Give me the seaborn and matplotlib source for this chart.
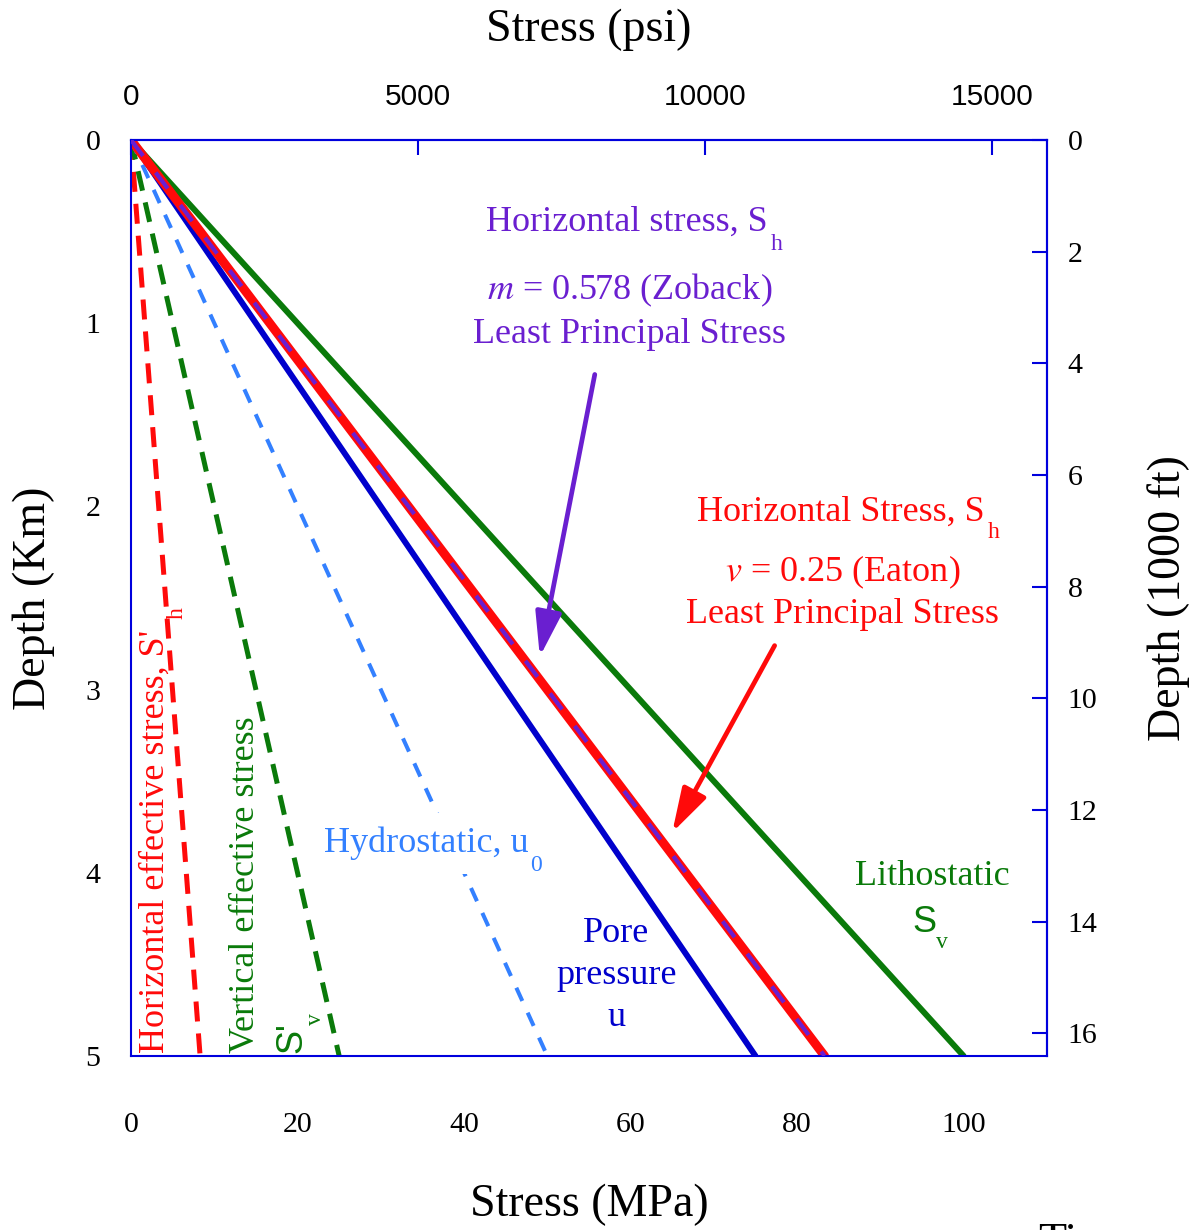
import numpy as np
import pandas as pd
import matplotlib
matplotlib.use("Agg")
import matplotlib.pyplot as plt
import seaborn as sns

# datos (esfuerzo en MPa, profundidad en km)
depth_km = [0.0, 5.0]
lithostatic_mpa = [0.0, 100.0]
pore_mpa = [0.0, 75.0]
sh_eaton_mpa = [0.0, 83.3]
sh_zoback_mpa = [0.0, 83.3]
hydro_mpa = [0.0, 50.0]
sv_eff_mpa = [0.0, 25.0]
sh_eff_mpa = [0.0, 8.3]

mpa_ticks = [0, 20, 40, 60, 80, 100]
psi_ticks = [0, 5000, 10000, 15000]
km_ticks = [0, 1, 2, 3, 4, 5]
kft_ticks = [0, 2, 4, 6, 8, 10, 12, 14, 16]

MPA_TO_PSI = 145.038
KM_TO_KFT = 3.28084

sns.set_style("white")
plt.rcParams['font.family'] = ['Liberation Serif', 'DejaVu Serif']
plt.rcParams['mathtext.fontset'] = 'stix'
plt.rcParams['text.color'] = 'black'
plt.rcParams['axes.labelcolor'] = 'black'
plt.rcParams['xtick.labelcolor'] = 'black'
plt.rcParams['ytick.labelcolor'] = 'black'

AXBLUE = '#0000dd'
GREEN = '#0a7a0a'
BLUE = '#0000cc'
RED = '#ff0a0a'
PURPLE = '#6a1fd0'
LBLUE = '#3380ff'

fig = plt.figure(figsize=(11.91, 12.30), dpi=100)
ax = fig.add_axes([0.110, 0.1415, 0.769, 0.7447])


def linea(x, color, lw, ls='-', z=2):
    df = pd.DataFrame({'x': x, 'y': depth_km})
    sns.lineplot(data=df, x='x', y='y', ax=ax, color=color, lw=lw,
                 linestyle=ls, sort=False, zorder=z)


linea(sh_eff_mpa, RED, 3.6, (0, (4, 2.4)))
linea(sv_eff_mpa, GREEN, 3.6, (0, (4, 2.4)))
linea(hydro_mpa, LBLUE, 2.9, (0, (3.6, 3.2)))
linea(pore_mpa, BLUE, 4.3)
linea(lithostatic_mpa, GREEN, 4.3)
linea(sh_eaton_mpa, RED, 6.5)
linea(sh_zoback_mpa, PURPLE, 3.0, (0, (4.8, 5)), z=3)

ax.set_xlim(0, 110)
ax.set_ylim(5, 0)
ax.set_xticks(mpa_ticks)
ax.set_yticks(km_ticks)
ax.set_xlabel("Stress (MPa)", fontsize=33, labelpad=33)
ax.set_ylabel("Depth (Km)", fontsize=33, labelpad=22)
ax.tick_params(axis='x', direction='in', length=11, width=1.5, color=AXBLUE,
               labelsize=21.5, pad=40)
ax.tick_params(axis='y', direction='in', length=11, width=1.5, color=AXBLUE,
               labelsize=21.5, pad=22)
for s in ax.spines.values():
    s.set_color(AXBLUE)
    s.set_linewidth(1.5)

top = ax.secondary_xaxis('top', functions=(lambda v: v * MPA_TO_PSI,
                                           lambda v: v / MPA_TO_PSI))
top.set_xticks(psi_ticks)
top.set_xlabel("Stress (psi)", fontsize=33, labelpad=30)
top.tick_params(direction='in', length=11, width=1.5, color=AXBLUE, pad=21)
for lab in top.get_xticklabels():
    lab.set_fontfamily('Liberation Sans')
    lab.set_fontsize(21.5)
for s in top.spines.values():
    s.set_color(AXBLUE)
    s.set_linewidth(1.5)

der = ax.secondary_yaxis('right', functions=(lambda v: v * KM_TO_KFT,
                                             lambda v: v / KM_TO_KFT))
der.set_yticks(kft_ticks)
der.set_ylabel("Depth (1000 ft)", fontsize=33, labelpad=36)
der.tick_params(direction='in', length=11, width=1.5, color=AXBLUE,
                labelsize=21.5, pad=15)
for s in der.spines.values():
    s.set_color(AXBLUE)
    s.set_linewidth(1.5)

# textos
fs = 26
sub = 17
flecha = '-|>,head_length=2.7,head_width=0.8'
ax.text(59.6, 0.45, "Horizontal stress, S", color=PURPLE, fontsize=fs,
        ha='center', va='center')
ax.text(77.6, 0.57, "h", color=PURPLE, fontsize=sub, ha='center', va='center')
ax.text(59.9, 0.82, "$m$ = 0.578 (Zoback)", color=PURPLE, fontsize=fs,
        ha='center', va='center')
ax.text(59.9, 1.06, "Least Principal Stress", color=PURPLE, fontsize=fs,
        ha='center', va='center')
ax.annotate("", xy=(49.1, 2.82), xytext=(55.7, 1.28),
            arrowprops=dict(arrowstyle=flecha, color=PURPLE, lw=3.4,
                            shrinkA=0, shrinkB=0))

ax.text(85.2, 2.03, "Horizontal Stress, S", color=RED, fontsize=fs,
        ha='center', va='center')
ax.text(103.6, 2.14, "h", color=RED, fontsize=sub, ha='center', va='center')
ax.text(85.5, 2.36, "$v$ = 0.25 (Eaton)", color=RED, fontsize=fs,
        ha='center', va='center')
ax.text(85.5, 2.59, "Least Principal Stress", color=RED, fontsize=fs,
        ha='center', va='center')
ax.annotate("", xy=(65.0, 3.78), xytext=(77.3, 2.76),
            arrowprops=dict(arrowstyle=flecha, color=RED, lw=3.4,
                            shrinkA=0, shrinkB=0))

ax.text(35.5, 3.84, "Hydrostatic, u", color=LBLUE, fontsize=fs,
        ha='center', va='center',
        bbox=dict(fc='white', ec='none', pad=10), zorder=4)
ax.text(48.7, 3.96, "0", color=LBLUE, fontsize=sub, ha='center', va='center',
        zorder=5)

ax.text(58.3, 4.33, "Pore", color=BLUE, fontsize=fs, ha='center', va='center')
ax.text(58.3, 4.56, "pressure", color=BLUE, fontsize=fs, ha='center', va='center')
ax.text(58.3, 4.79, "u", color=BLUE, fontsize=fs, ha='center', va='center')

ax.text(96.2, 4.02, "Lithostatic", color=GREEN, fontsize=fs,
        ha='center', va='center')
ax.text(95.3, 4.27, "S", color=GREEN, fontsize=fs, ha='center', va='center',
        family='Liberation Sans')
ax.text(97.4, 4.38, "v", color=GREEN, fontsize=sub, ha='center', va='center')

ax.text(2.9, 4.985, "Horizontal effective stress, S'", color=RED, fontsize=fs,
        rotation=90, ha='center', va='bottom')
ax.text(5.6, 2.58, "h", color=RED, fontsize=sub, rotation=90,
        ha='center', va='center')
ax.text(13.7, 4.985, "Vertical effective stress", color=GREEN, fontsize=fs,
        rotation=90, ha='center', va='bottom')
ax.text(19.3, 4.985, "S'", color=GREEN, fontsize=fs, rotation=90,
        ha='center', va='bottom', family='Liberation Sans')
ax.text(22.1, 4.80, "v", color=GREEN, fontsize=sub, rotation=90,
        ha='center', va='center')

# texto cortado en la esquina inferior (como en el original)
fig.text(0.872, 0.006, "Ti", fontsize=33, ha='left', va='top')

fig.savefig("out.png", dpi=100)
